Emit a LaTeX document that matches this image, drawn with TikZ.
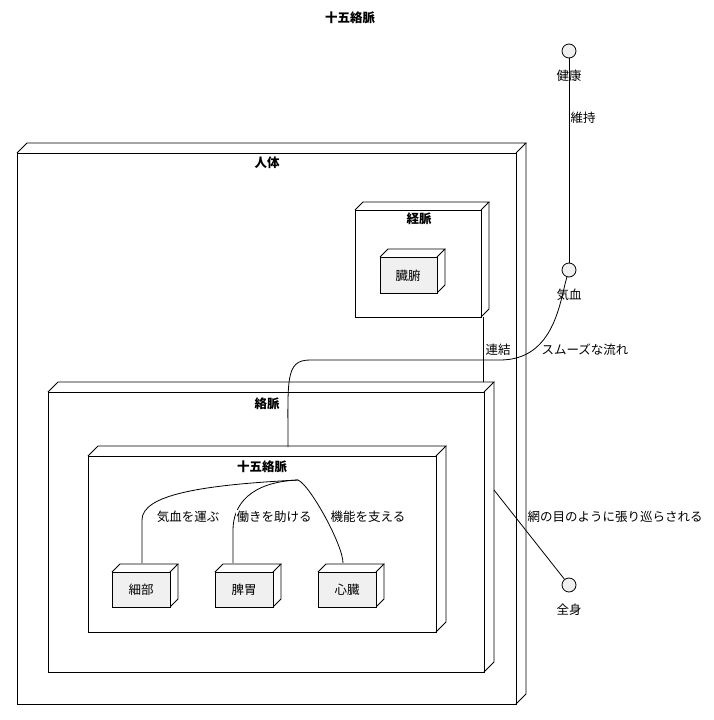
\documentclass[tikz,border=0pt]{standalone}
\usepackage{fontspec}
\setmainfont{Noto Sans CJK JP}
\begin{document}
\begin{tikzpicture}[x=1pt,y=-1pt,line width=0.8pt,
  lbl/.style={font=\fontsize{12.5}{14}\selectfont},
  ttl/.style={font=\fontsize{12.5}{14}\selectfont\bfseries},
  circ/.style={circle,draw,fill=gray!12,minimum size=14,inner sep=0}]
\useasboundingbox (0,0) rectangle (713,720);
\newcommand{\tbox}[6]{% name x1 y1 x2 y2 d
  \node[draw,minimum width=#4-#2,minimum height=#5-#3,anchor=north west,inner sep=0] (#1) at (#2,#3) {};
  \draw (#2,#3) -- ++(#6,-#6) -- (#4+#6,#3-#6) -- (#4,#3);
  \draw (#4+#6,#3-#6) -- (#4+#6,#5-#6) -- (#4,#5);}
\node[ttl] (title) at (350,18) {十五絡脈};
\tbox{jintai}{17}{153}{516}{704}{10}
\node[ttl] (jintaiL) at (267,163) {人体};
\tbox{keimyaku}{355}{210}{481}{317}{8}
\node[ttl] (keiL) at (419,219) {経脈};
\tbox{zouhu}{380}{257}{437}{293}{8}
\fill[gray!12] (380.5,257.5) rectangle (436.5,292.5);
\node[lbl] (zouhuL) at (408,276) {臓腑};
\tbox{rakumyaku}{48}{392}{484}{672}{10}
\node[ttl] (rakuL) at (267,404) {絡脈};
\tbox{juugo}{88}{456}{436}{632}{10}
\node[ttl] (juugoL) at (262,467) {十五絡脈};
\coordinate (jtop) at (298,480);
\foreach \n/\x/\t in {saibu/112/細部,hii/215/脾胃,shinzou/318/心臓}{
  \tbox{\n}{\x}{572}{\x+58}{607}{8}
  \fill[gray!12] (\x+0.5,572.5) rectangle (\x+57.5,606.5);
  \node[lbl] at (\x+29,590) {\t};
}
\draw (jtop) .. controls (200,485) and (142,495) .. (142,520) -- (142,563);
\draw (jtop) .. controls (250,482) and (233,505) .. (233,530) -- (233,563);
\draw (jtop) .. controls (310,485) and (343,545) .. (343,563);
\node[lbl,fill=white,inner sep=1] at (188,517) {気血を運ぶ};
\node[lbl,fill=white,inner sep=1] at (274,517) {働きを助ける};
\node[lbl,fill=white,inner sep=1] at (368,517) {機能を支える};
\node[circ] (kenkou) at (569,51) {};
\node[lbl] at (569,76) {健康};
\node[circ] (kekki) at (569,270) {};
\node[lbl] at (569,295) {気血};
\node[circ] (zenshin) at (569,585) {};
\node[lbl] at (569,610) {全身};
\draw (kenkou) -- (kekki);
\node[lbl] at (583,118) {維持};
\draw (483,317) -- (483,382);
\node[lbl] at (498,350) {連結};
\draw (kekki) .. controls (560,300) and (555,360) .. (500,360) -- (310,360) .. controls (285,360) and (288,380) .. (288,447);
\node[lbl] at (585,350) {スムーズな流れ};
\draw (494,490) -- (zenshin);
\node[lbl] at (615,517) {網の目のように張り巡らされる};
\end{tikzpicture}
\end{document}
